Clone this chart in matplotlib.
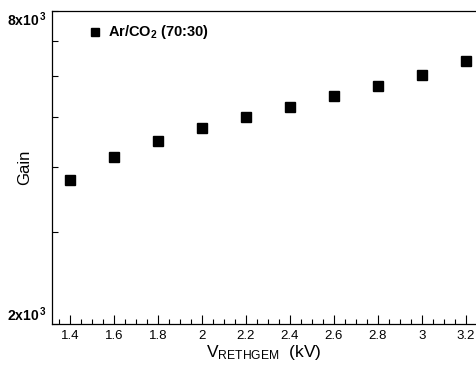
import matplotlib
matplotlib.use("Agg")
import matplotlib.pyplot as plt
import matplotlib.ticker as ticker

plt.rcParams["font.family"] = ["Liberation Sans", "DejaVu Sans"]
plt.rcParams["mathtext.fontset"] = "custom"
plt.rcParams["mathtext.rm"] = "Liberation Sans"
plt.rcParams["mathtext.it"] = "Liberation Sans:italic"
plt.rcParams["mathtext.bf"] = "Liberation Sans:bold"

# data
voltage = [1.4, 1.6, 1.8, 2.0, 2.2, 2.4, 2.6, 2.8, 3.0, 3.2]
gain = [3776, 4182, 4496, 4763, 4988, 5215, 5476, 5725, 6028, 6406]
series_label = r"Ar/CO$_{\mathbf{2}}$ (70:30)"

x_major = [1.4, 1.6, 1.8, 2.0, 2.2, 2.4, 2.6, 2.8, 3.0, 3.2]
x_major_labels = ["1.4", "1.6", "1.8", "2", "2.2", "2.4", "2.6", "2.8", "3", "3.2"]
y_major = [2000, 4000, 8000]
y_major_labels = [r"$\mathbf{2x10}^{\,\mathbf{3}}$", "", r"$\mathbf{8x10}^{\,\mathbf{3}}$"]
y_minor = [3000, 5000, 6000, 7000]

fig = plt.figure(figsize=(4.76, 3.65), dpi=100)
ax = fig.add_axes([0.109, 0.1123, 0.891, 0.8589])

ax.plot(voltage, gain, linestyle="none", marker="s", ms=6.8, color="black")

ax.set_yscale("log")
ax.set_xlim(1.317, 3.247)
ax.set_ylim(2000, 8000)

ax.xaxis.set_major_locator(ticker.FixedLocator(x_major))
ax.xaxis.set_major_formatter(ticker.FixedFormatter(x_major_labels))
ax.xaxis.set_minor_locator(ticker.MultipleLocator(0.05))
ax.yaxis.set_major_locator(ticker.FixedLocator(y_major))
ax.yaxis.set_major_formatter(ticker.FixedFormatter(y_major_labels))
ax.yaxis.set_minor_locator(ticker.FixedLocator(y_minor))
ax.yaxis.set_minor_formatter(ticker.NullFormatter())

ax.tick_params(axis="x", which="major", direction="in", length=6.5, width=0.8,
               labelsize=9.5, pad=4)
ax.tick_params(axis="x", which="minor", direction="in", length=3.5, width=0.8)
ax.tick_params(axis="y", which="both", direction="in", length=4.5, width=0.8,
               labelsize=10, pad=4)

for spine in ["left", "bottom", "top"]:
    ax.spines[spine].set_linewidth(0.9)
ax.spines["right"].set_visible(False)

labels = ax.yaxis.get_majorticklabels()
labels[0].set_va("bottom")
labels[2].set_va("top")

ax.set_ylabel("Gain", fontsize=12)
ax.yaxis.set_label_coords(-0.047, 0.5)
ax.set_xlabel(r"V$_{\mathrm{RETHGEM}}$  (kV)", fontsize=12.5)
ax.xaxis.set_label_coords(0.5, -0.06)
ax.xaxis.label.set_va("top")

# legend drawn as marker + text, like the reference
ax.plot([0.102], [0.93], transform=ax.transAxes, linestyle="none", marker="s",
        ms=5.5, color="black", clip_on=False)
ax.text(0.132, 0.93, series_label, transform=ax.transAxes, fontsize=10.5,
        fontweight="bold", va="center", ha="left")

fig.savefig("out.png", dpi=100)
